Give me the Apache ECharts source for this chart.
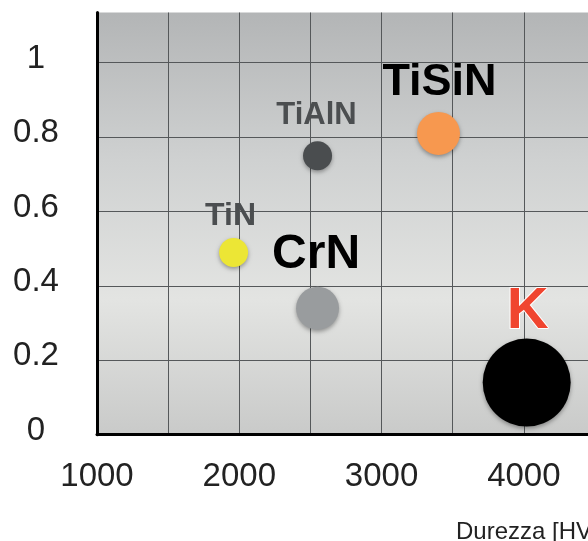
<!DOCTYPE html>
<html>
<head>
<meta charset="utf-8">
<script src="https://cdn.jsdelivr.net/npm/echarts@6/dist/echarts.min.js"></script>
<style>
html,body{margin:0;padding:0;background:#fff;}
#chart{width:588px;height:541px;}
</style>
</head>
<body>
<div id="chart"></div>
<script>
// ---- data ----
const names = ['TiN', 'TiAlN', 'TiSiN', 'CrN', 'K'];
const hardness = [1960, 2550, 3400, 2550, 4020];
const yValues = [0.49, 0.75, 0.81, 0.34, 0.14];
const xTickLabels = ['1000', '2000', '3000', '4000'];
const yTickLabels = ['0', '0.2', '0.4', '0.6', '0.8', '1'];
const axisName = 'Durezza [HV]';

// ---- styles (kept apart from data) ----
const pointStyles = [
  { color: '#ece635', size: 29, label: { color: '#4b4e50', fontSize: 32, offset: [-3, -36] } },
  { color: '#4a4d4f', size: 29, label: { color: '#4b4e50', fontSize: 31, offset: [-1, -40] } },
  { color: '#f7984f', size: 43, label: { color: '#000', fontSize: 45, offset: [1, -51] } },
  { color: '#999c9e', size: 43, label: { color: '#000', fontSize: 48, offset: [-1.5, -53] } },
  { color: '#000000', size: 88, label: { color: '#f0452f', fontSize: 58, offset: [1, -71], textBorderColor: '#fff', textBorderWidth: 2 } }
];
const FONT = 'Liberation Sans, Helvetica, Arial, sans-serif';

const seriesData = names.map((n, i) => ({
  name: n,
  value: [hardness[i], yValues[i]],
  symbolSize: pointStyles[i].size,
  itemStyle: {
    color: pointStyles[i].color,
    opacity: 1,
    shadowBlur: 4,
    shadowOffsetY: 2,
    shadowColor: 'rgba(0,0,0,0.35)'
  },
  label: Object.assign({
    show: true,
    position: 'inside',
    formatter: n,
    fontWeight: 'bold',
    fontFamily: FONT,
    align: 'center',
    verticalAlign: 'middle'
  }, pointStyles[i].label)
}));

const chart = echarts.init(document.getElementById('chart'), null, { renderer: 'canvas' });
chart.setOption({
  animation: false,
  title: {
    text: axisName,
    left: 456,
    top: 520,
    padding: 0,
    textStyle: { fontSize: 24, fontWeight: 'normal', color: '#222', fontFamily: FONT }
  },
  grid: {
    left: 97,
    top: 12.5,
    width: 498,
    height: 422.2,
    containLabel: false,
    outerBoundsMode: 'none',
    show: true,
    borderWidth: 0,
    backgroundColor: new echarts.graphic.LinearGradient(0, 0, 0, 1, [
      { offset: 0, color: '#b3b5b6' },
      { offset: 0.35, color: '#cfd1d1' },
      { offset: 0.68, color: '#e3e4e2' },
      { offset: 1, color: '#c9cac9' }
    ])
  },
  xAxis: {
    type: 'value',
    min: 1000,
    max: 4500,
    interval: 500,
    axisLine: { show: true, onZero: false, lineStyle: { color: '#000', width: 3 } },
    axisTick: { show: false },
    splitLine: { show: true, showMaxLine: false, lineStyle: { color: '#55585a', width: 1 } },
    axisLabel: {
      margin: 26,
      fontSize: 33,
      color: '#222',
      fontFamily: FONT,
      formatter: v => {
        const idx = xTickLabels.indexOf(String(Math.round(v)));
        return idx >= 0 ? xTickLabels[idx] : '';
      }
    }
  },
  yAxis: {
    type: 'value',
    min: 0,
    max: 1.135,
    interval: 0.2,
    axisLine: { show: true, onZero: false, lineStyle: { color: '#000', width: 3 } },
    axisTick: { show: false },
    splitLine: { show: true, showMaxLine: false, lineStyle: { color: '#55585a', width: 1 } },
    axisLabel: {
      margin: 61,
      align: 'center',
      verticalAlign: 'bottom',
      lineHeight: 8,
      fontSize: 33,
      color: '#222',
      fontFamily: FONT,
      showMaxLabel: false,
      formatter: v => {
        const k = Math.round(v / 0.2);
        if (Math.abs(v - k * 0.2) > 1e-6) return '';
        return yTickLabels[k] !== undefined ? yTickLabels[k] : '';
      }
    }
  },
  series: [{
    type: 'scatter',
    data: seriesData
  }]
});
</script>
</body>
</html>
